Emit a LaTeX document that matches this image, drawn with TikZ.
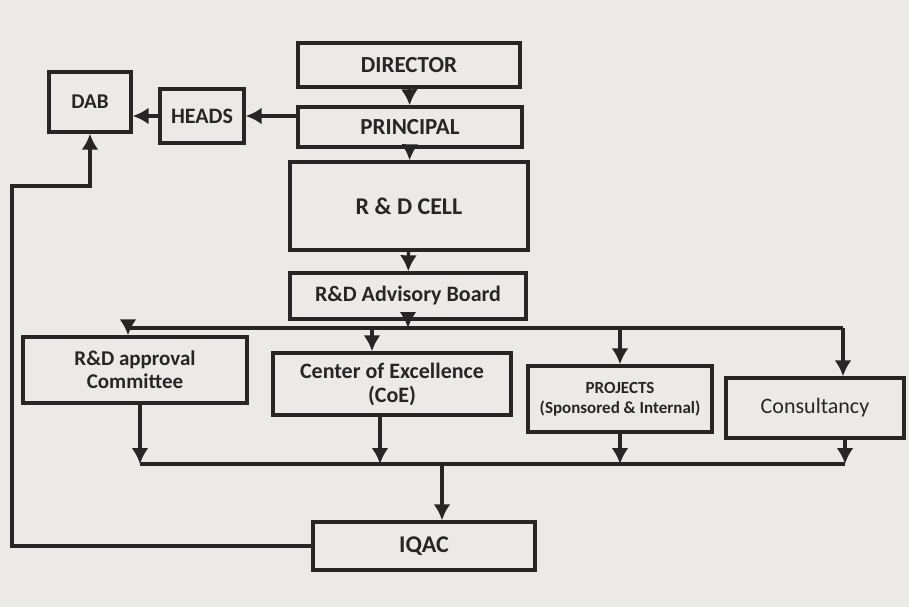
\documentclass[tikz,border=0pt]{standalone}
\usepackage{fontspec}
\setmainfont{Carlito}
\usetikzlibrary{arrows.meta}
\definecolor{paper}{HTML}{ECEAE7}
\definecolor{ink}{HTML}{262626}
\begin{document}
\begin{tikzpicture}[x=1pt,y=-1pt,
  box/.style={draw=ink, line width=3.4pt, inner sep=2pt, align=center, text=ink,
    font=\fontsize{22}{24}\selectfont\bfseries},
  wire/.style={draw=ink, line width=3.4pt},
  arr/.style={wire, -{Latex[length=16pt,width=17pt]}}]
\fill[paper] (0,0) rectangle (909,607);
\useasboundingbox (0,0) rectangle (909,607);
% nodes
\node[box, minimum width=222, minimum height=44, font=\fontsize{23}{25}\selectfont\bfseries] (director) at (409,65) {DIRECTOR};
\node[box, minimum width=224, minimum height=40, font=\fontsize{23}{25}\selectfont\bfseries] (principal) at (410,127) {PRINCIPAL};
\node[box, minimum width=84, minimum height=54] (heads) at (202,116) {HEADS};
\node[box, minimum width=82, minimum height=60, font=\fontsize{21}{23}\selectfont\bfseries] (dab) at (90,102) {DAB};
\node[box, minimum width=238, minimum height=88, font=\fontsize{24}{26}\selectfont\bfseries] (cell) at (409,206) {R \& D CELL};
\node[box, minimum width=236, minimum height=46] (adv) at (408,296) {R\&D Advisory Board};
\node[box, minimum width=224, minimum height=66, font=\fontsize{21}{23}\selectfont\bfseries] (comm) at (135,370) {R\&D approval\\Committee};
\node[box, minimum width=238, minimum height=62, font=\fontsize{22}{24}\selectfont\bfseries] (coe) at (392,384) {Center of Excellence\\(CoE)};
\node[box, minimum width=184, minimum height=66, font=\fontsize{17}{20}\selectfont\bfseries] (proj) at (620,399) {PROJECTS\\(Sponsored \& Internal)};
\node[box, minimum width=178, minimum height=60, font=\fontsize{22}{24}\selectfont] (cons) at (815,408) {Consultancy};
\node[box, minimum width=222, minimum height=48, font=\fontsize{24}{26}\selectfont\bfseries] (iqac) at (424,546) {IQAC};
% coordinates for buses
\coordinate (tb) at (0,328);
\coordinate (bb) at (0,464);
% top chain
\draw[arr] (director) -- (principal);
\draw[arr] (principal) -- (cell);
\draw[arr] (cell) -- (adv);
\draw[arr] (principal.west |- heads.east) -- (heads.east);
\draw[arr] (heads.west) -- (heads.west -| dab.east);
% top bus
\draw[arr] (adv.south) -- (adv.south |- tb);
\draw[wire] ([xshift=-7]comm.north |- tb) -- ([xshift=28]cons.north |- tb);
\draw[arr] ([xshift=-7]comm.north |- tb) -- ([xshift=-7]comm.north);
\draw[arr] ([xshift=-20]coe.north |- tb) -- ([xshift=-20]coe.north);
\draw[arr] (proj.north |- tb) -- (proj.north);
\draw[arr] ([xshift=28]cons.north |- tb) -- ([xshift=28]cons.north);
% bottom bus
\draw[wire] ([xshift=5]comm.south |- bb) -- ([xshift=30]cons.south |- bb);
\draw[arr] ([xshift=5]comm.south) -- ([xshift=5]comm.south |- bb);
\draw[arr] ([xshift=-12]coe.south) -- ([xshift=-12]coe.south |- bb);
\draw[arr] (proj.south) -- (proj.south |- bb);
\draw[arr] ([xshift=30]cons.south) -- ([xshift=30]cons.south |- bb);
\draw[arr] ([xshift=18]iqac.north |- bb) -- ([xshift=18]iqac.north);
% feedback to DAB
\draw[arr] (iqac.west) -| (12,186) -| (dab.south);
\end{tikzpicture}
\end{document}
